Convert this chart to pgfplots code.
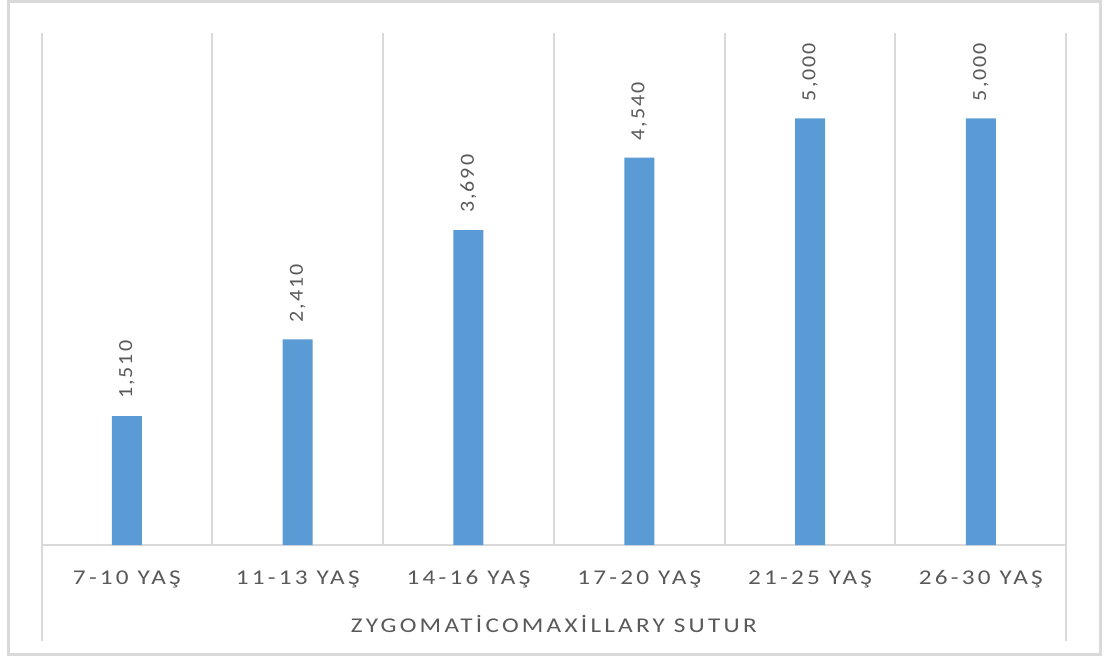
\documentclass[border=0pt]{standalone}
\usepackage{pgfplots}
\pgfplotsset{compat=1.18}
\usepackage{fontspec}
\setmainfont{Carlito}
\newfontfamily\catfont[LetterSpace=15.5, FakeStretch=1.2]{Carlito}
\newfontfamily\valfont[LetterSpace=10, FakeStretch=1.1]{Carlito}

\definecolor{barblue}{HTML}{5B9BD5}
\definecolor{textgray}{HTML}{595959}
\definecolor{gridgray}{HTML}{D9D9D9}

\begin{document}
\begin{tikzpicture}
\useasboundingbox (0,0) rectangle (1104pt,657pt);
% chart frame
\draw[gridgray, line width=3pt] (8pt,2.5pt) rectangle (1100pt,655pt);

\begin{axis}[
  at={(41.5pt,112pt)}, anchor=south west,
  scale only axis,
  width=1024.8pt, height=512pt,
  xmin=-0.5, xmax=5.5,
  ymin=0, ymax=6,
  axis x line=bottom, axis y line=none,
  axis line style={-, draw=gridgray, line width=2pt},
  xtick={0,...,5},
  xticklabels={7-10 YAŞ, 11-13 YAŞ, 14-16 YAŞ, 17-20 YAŞ, 21-25 YAŞ, 26-30 YAŞ},
  major tick length=0pt,
  minor xtick={-0.5,0.5,...,5.5},
  xminorgrids=true,
  minor grid style={draw=gridgray, line width=2pt},
  minor tick length=0pt,
  tick align=outside,
  % the two outer separators run on down past the category labels
  extra x ticks={-0.5,5.5},
  extra x tick labels={},
  extra x tick style={major tick length=96pt,
    tick style={draw=gridgray, line width=2pt}},
  ytick=\empty,
  xticklabel style={anchor=base, yshift=-39pt, text=textgray,
    font=\catfont\fontsize{21}{25}\selectfont},
  xlabel={ZYGOMATİCOMAXİLLARY SUTUR},
  xlabel style={at={(axis description cs:0.5,0)}, anchor=base, yshift=-87pt,
    text=textgray, font=\catfont\fontsize{21}{25}\selectfont},
  clip=false,
  ybar, bar width=30pt,
  nodes near coords={\pgfmathprintnumber[fixed, fixed zerofill, precision=3,
    use comma, assume math mode=true]{\pgfplotspointmeta}},
  every node near coord/.append style={rotate=90, anchor=west,
    inner xsep=17pt, inner ysep=0pt, text=textgray,
    font=\valfont\fontsize{20}{24}\selectfont},
]
\addplot[fill=barblue, draw=none] coordinates {
  (0,1.510) (1,2.410) (2,3.690) (3,4.540) (4,5.000) (5,5.000)
};
\end{axis}
\end{tikzpicture}
\end{document}
